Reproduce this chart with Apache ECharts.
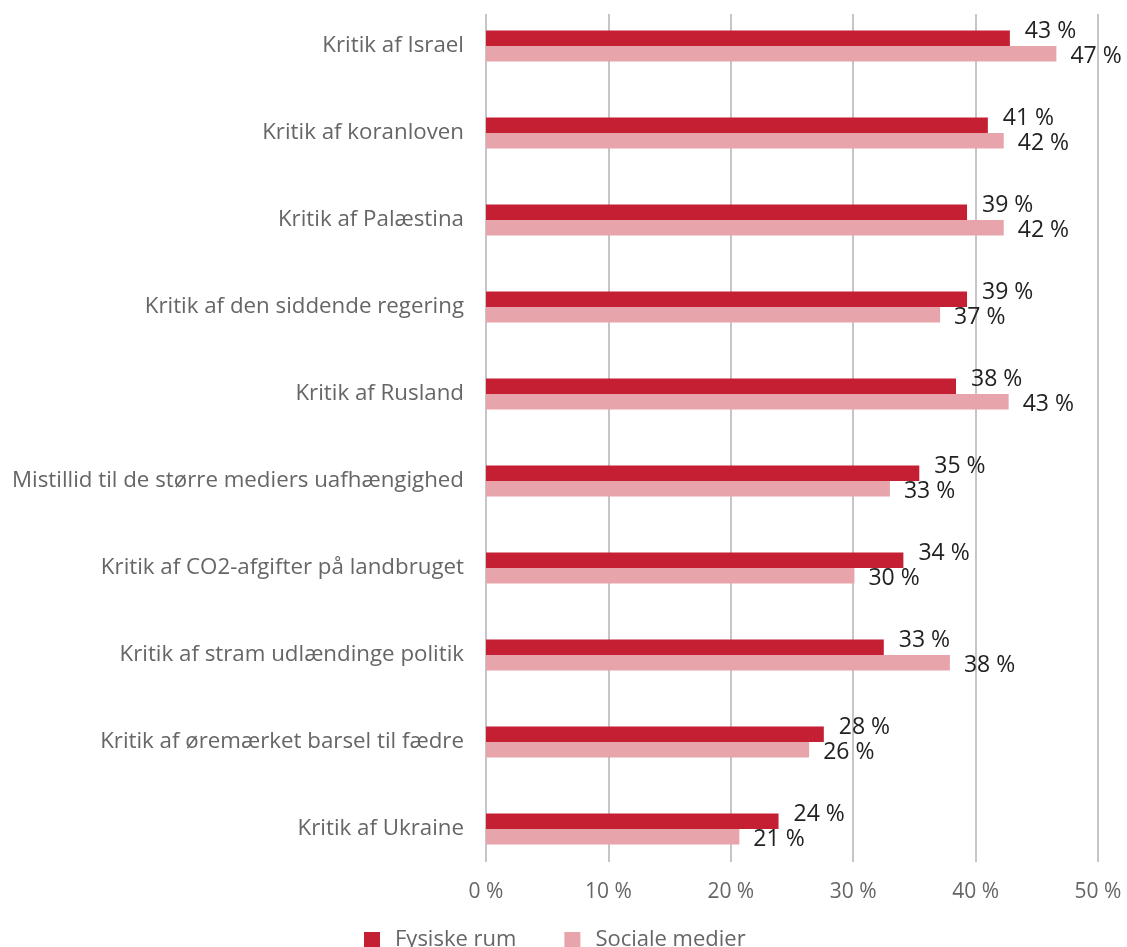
<!DOCTYPE html>
<html>
<head>
<meta charset="utf-8">
<script src="https://cdn.jsdelivr.net/npm/echarts@6/dist/echarts.min.js"></script>
<style>
  html, body { margin: 0; padding: 0; background: #ffffff; }
  #chart { width: 1127px; height: 947px; }
</style>
</head>
<body>
<div id="chart"></div>
<script>
// Emner
const categories = [
  'Kritik af Israel',
  'Kritik af koranloven',
  'Kritik af Palæstina',
  'Kritik af den siddende regering',
  'Kritik af Rusland',
  'Mistillid til de større mediers uafhængighed',
  'Kritik af CO2-afgifter på landbruget',
  'Kritik af stram udlændinge politik',
  'Kritik af øremærket barsel til fædre',
  'Kritik af Ukraine'
];

// Andel i procent
const fysiskeRum = [42.8, 41.0, 39.3, 39.3, 38.4, 35.4, 34.1, 32.5, 27.6, 23.9];
const socialeMedier = [46.6, 42.3, 42.3, 37.1, 42.7, 33.0, 30.1, 37.9, 26.4, 20.7];

const xTicks = [0, 10, 20, 30, 40, 50];

const FONT = '"Open Sans", "Noto Sans", sans-serif';

const chart = echarts.init(document.getElementById('chart'), null, { renderer: 'canvas' });

const pct = v => Math.round(v) + ' %';

chart.setOption({
  animation: false,
  backgroundColor: '#ffffff',
  textStyle: { fontFamily: FONT },
  grid: [
    // bars
    { left: 486, right: 29, top: 2.5, height: 870, containLabel: false },
    // gridlines and axis labels
    { left: 486, right: 29, top: 14, height: 848, containLabel: false }
  ],
  legend: {
    data: ['Fysiske rum', 'Sociale medier'],
    left: 359,
    top: 924,
    padding: 5,
    icon: 'rect',
    itemWidth: 16,
    itemHeight: 16,
    itemGap: 48,
    textStyle: {
      color: '#666666',
      fontSize: 22,
      fontFamily: FONT,
      padding: [0, 0, 0, 10]
    }
  },
  xAxis: [
    {
      gridIndex: 0,
      type: 'value',
      min: xTicks[0],
      max: xTicks[xTicks.length - 1],
      interval: 10,
      show: false,
      splitLine: { show: false }
    },
    {
      gridIndex: 1,
      type: 'value',
      min: xTicks[0],
      max: xTicks[xTicks.length - 1],
      interval: 10,
      axisLine: { show: false },
      axisTick: { show: false },
      axisLabel: {
        color: '#666666',
        fontSize: 21,
        fontFamily: FONT,
        margin: 20,
        formatter: v => v + ' %'
      },
      splitLine: { show: true, lineStyle: { color: '#c6c6ca', width: 2 } }
    }
  ],
  yAxis: [
    {
      gridIndex: 0,
      type: 'category',
      data: categories,
      inverse: true,
      axisLine: { show: false },
      axisTick: { show: false },
      axisLabel: {
        color: '#666666',
        fontSize: 22.3,
        fontFamily: FONT,
        margin: 22,
        padding: [3, 0, 0, 0]
      }
    },
    {
      gridIndex: 1,
      type: 'category',
      data: categories,
      inverse: true,
      show: false
    }
  ],
  series: [
    {
      name: 'Fysiske rum',
      type: 'bar',
      xAxisIndex: 0,
      yAxisIndex: 0,
      data: fysiskeRum,
      barWidth: 15.5,
      barGap: '0%',
      itemStyle: { color: '#c41f33' },
      label: {
        show: true,
        position: 'right',
        distance: 15,
        offset: [0, -7],
        color: '#222222',
        fontSize: 23,
        fontFamily: FONT,
        formatter: p => pct(p.value)
      }
    },
    {
      name: 'Sociale medier',
      type: 'bar',
      xAxisIndex: 0,
      yAxisIndex: 0,
      data: socialeMedier,
      barWidth: 15.5,
      barGap: '0%',
      itemStyle: { color: '#e8a4ab' },
      label: {
        show: true,
        position: 'right',
        distance: 14,
        offset: [0, 3],
        color: '#222222',
        fontSize: 23,
        fontFamily: FONT,
        formatter: p => pct(p.value)
      }
    }
  ]
});
</script>
</body>
</html>
